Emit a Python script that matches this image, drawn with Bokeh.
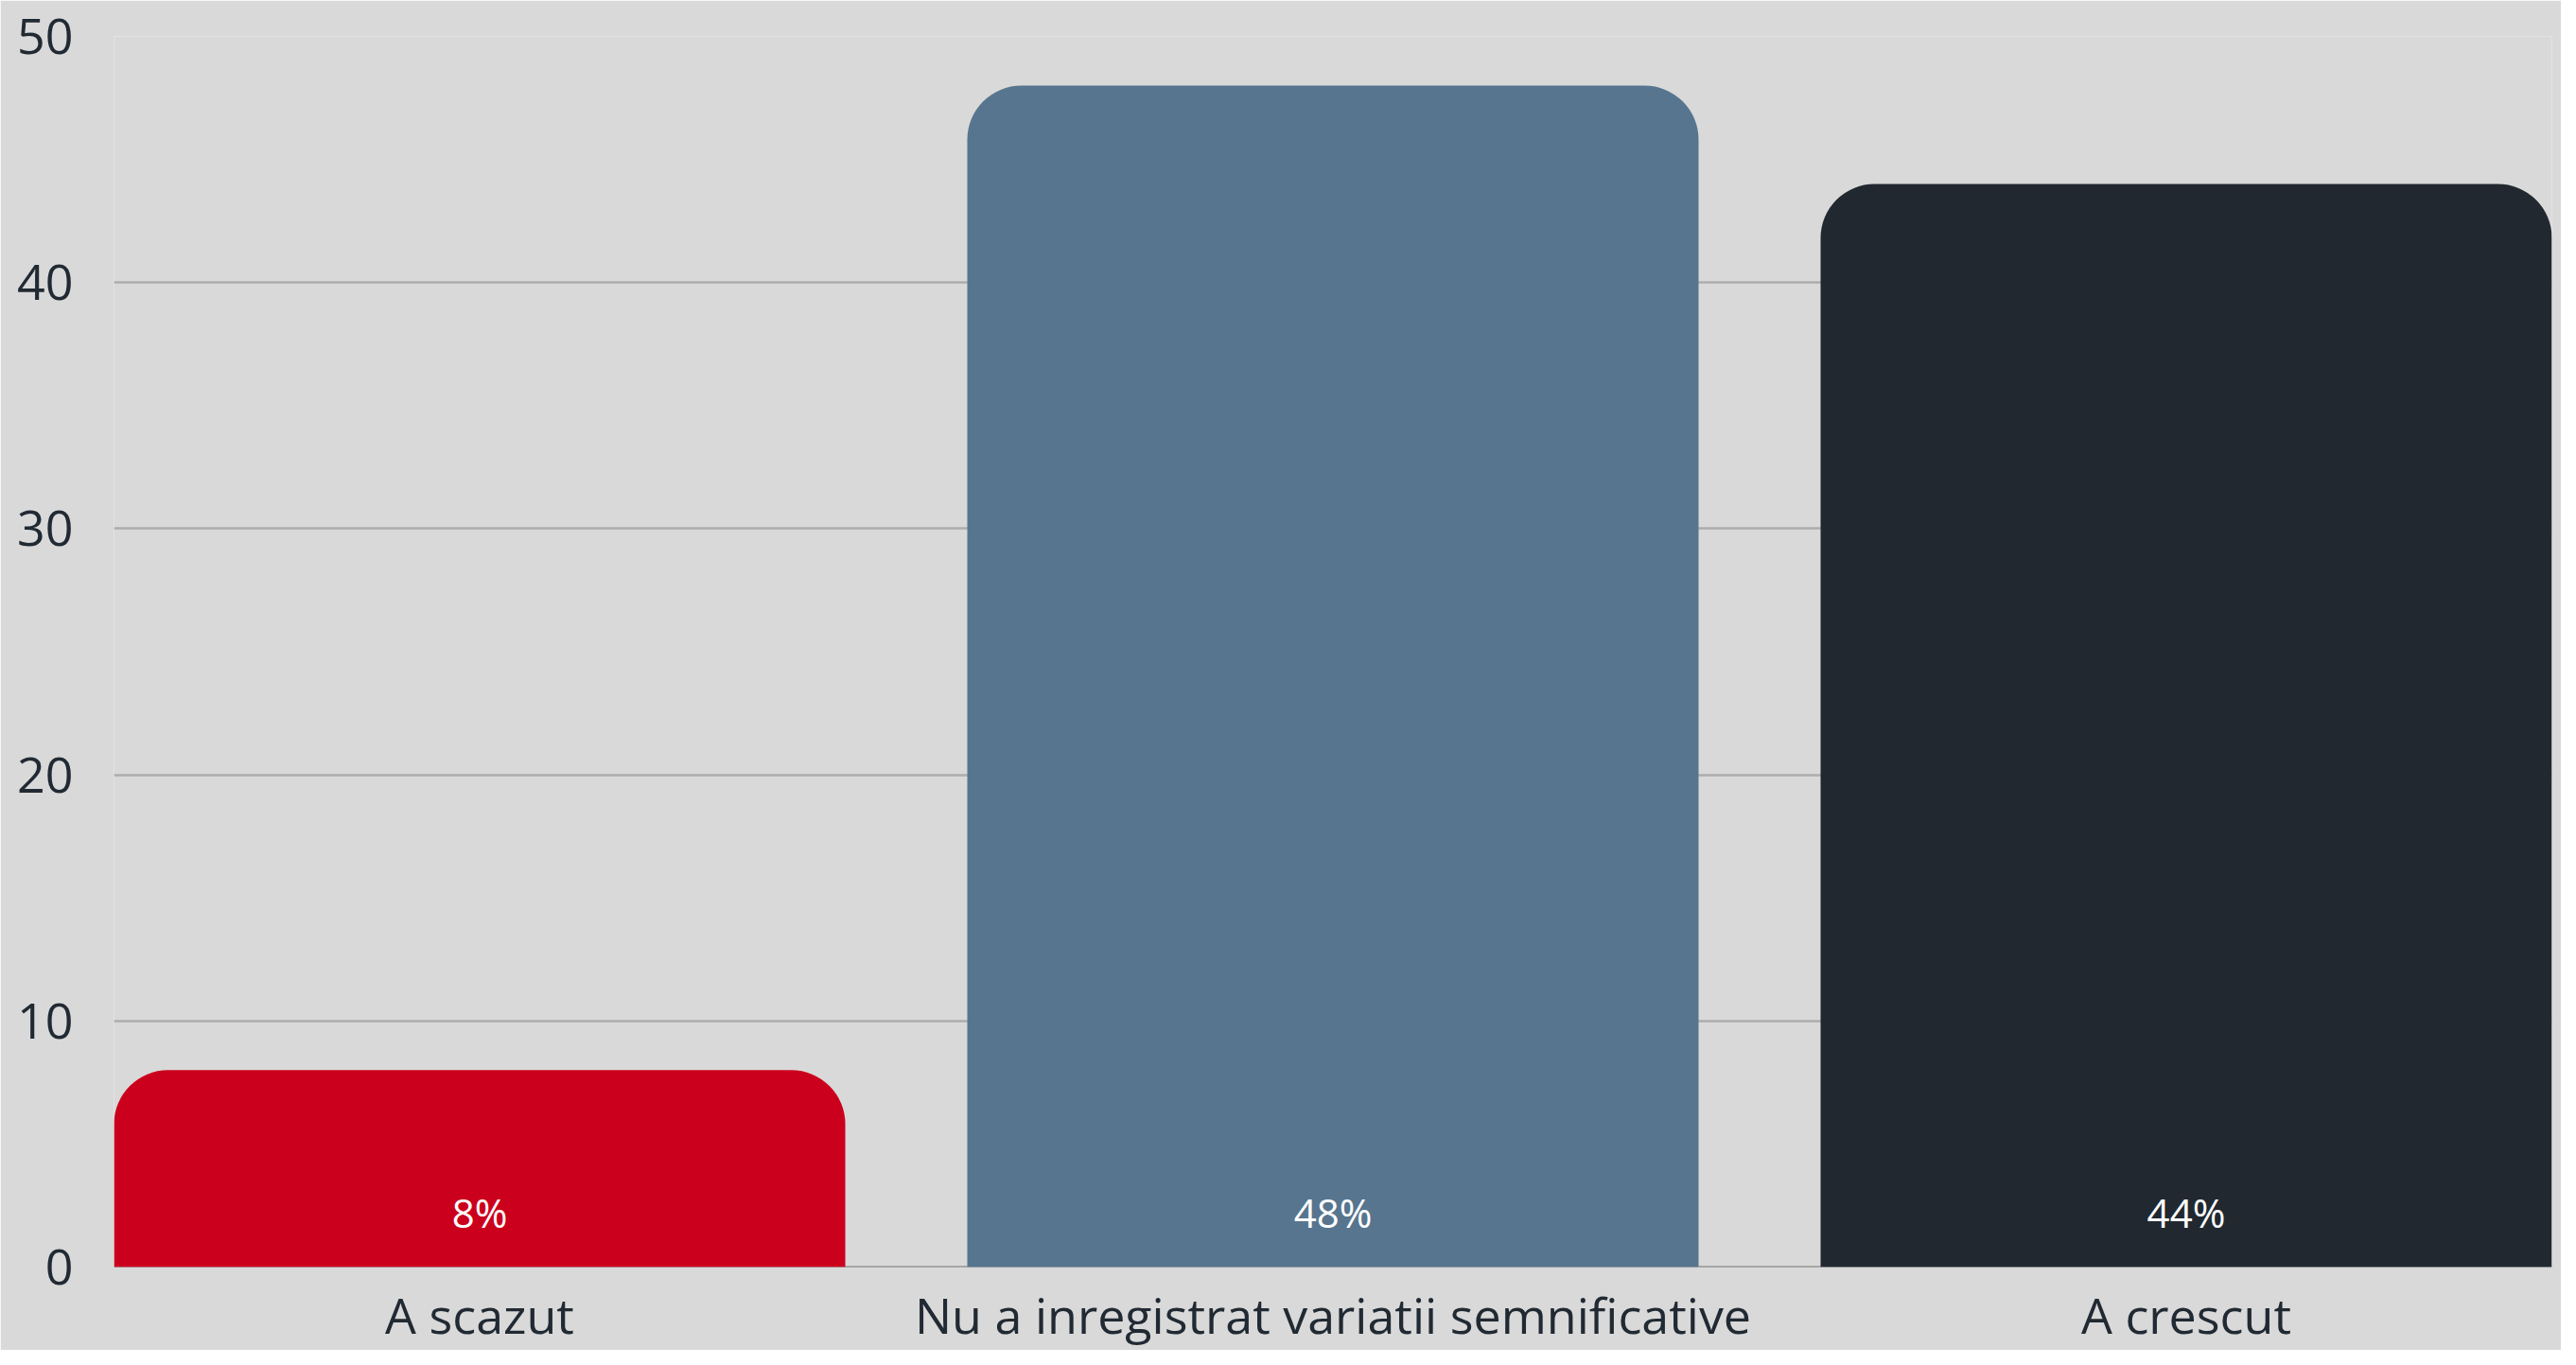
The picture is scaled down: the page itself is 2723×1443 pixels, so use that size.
from bokeh.plotting import figure
from bokeh.models import Range1d, FixedTicker, Span, ColumnDataSource
from bokeh.core.properties import value
from bokeh.embed import file_html
from bokeh.resources import INLINE

categories = ["A scazut", "Nu a inregistrat variatii semnificative", "A crescut"]
values = [8, 48, 44]
labels = ["8%", "48%", "44%"]
colors = ["#cb001c", "#57758f", "#212830"]
y_ticks = [0, 10, 20, 30, 40, 50]

BG = "#d9d9d9"
TXT = "#212a33"
FONT = "Open Sans"
W = 0.857

xs = list(range(len(categories)))
src = ColumnDataSource(dict(x=xs, top=values, color=colors, label=labels,
                            zero=[0] * len(values)))

p = figure(width=2707, height=1427, output_backend="svg", toolbar_location=None,
           x_range=Range1d(-W / 2, len(categories) - 1 + W / 2),
           y_range=Range1d(0, 50),
           min_border_left=120, min_border_top=38, min_border_right=10, min_border_bottom=85)

p.background_fill_color = BG
p.border_fill_color = BG
p.outline_line_color = None

p.vbar(x="x", top="top", bottom=0, width=W, fill_color="color", line_color=None,
       border_radius=(57, 57, 0, 0), source=src)

p.text(x="x", y="zero", text="label", source=src, text_color="white",
       text_font=value(FONT), text_font_size="42px", text_align="center",
       text_baseline="middle", y_offset=-58)

base = Span(location=0, dimension="width", line_color="#707070", line_width=2, level="underlay")
p.add_layout(base)

p.xgrid.grid_line_color = None
p.ygrid.grid_line_color = "#adadad"
p.ygrid.grid_line_width = 2.5
p.ygrid.ticker = FixedTicker(ticks=y_ticks)

p.yaxis.ticker = FixedTicker(ticks=y_ticks)
p.yaxis.axis_line_color = None
p.yaxis.major_tick_line_color = None
p.yaxis.minor_tick_line_color = None
p.yaxis.major_label_standoff = 37
p.yaxis.major_label_text_font = FONT
p.yaxis.major_label_text_font_size = "52px"
p.yaxis.major_label_text_color = TXT

p.xaxis.ticker = FixedTicker(ticks=xs)
p.xaxis.major_label_overrides = {i: c for i, c in enumerate(categories)}
p.xaxis.axis_line_color = None
p.xaxis.major_tick_line_color = None
p.xaxis.minor_tick_line_color = None
p.xaxis.major_label_standoff = 8
p.xaxis.major_label_text_font = FONT
p.xaxis.major_label_text_font_size = "52px"
p.xaxis.major_label_text_color = TXT

open("out.html", "w").write(file_html(p, INLINE))
